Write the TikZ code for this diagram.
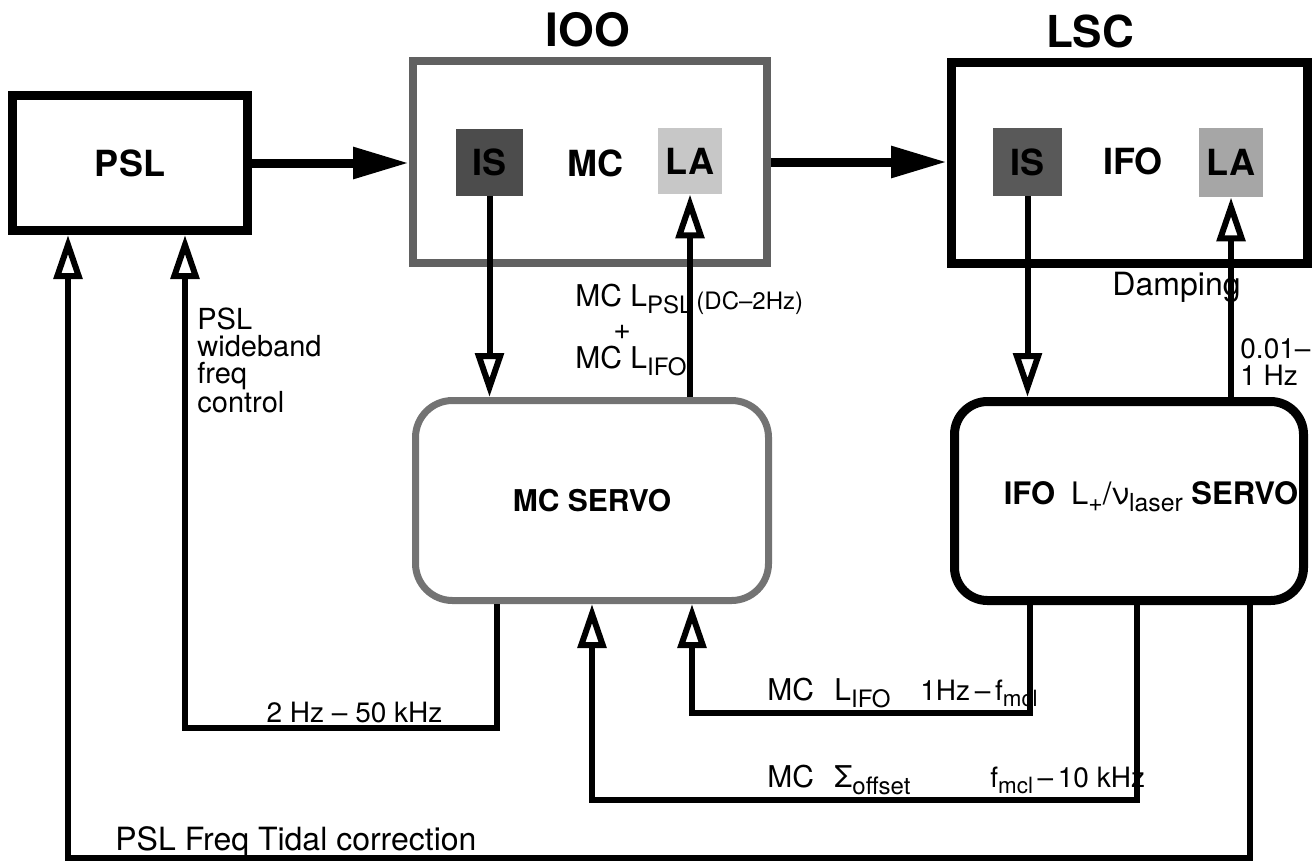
\documentclass[tikz,border=0pt]{standalone}
\usepackage{fontspec}
\setmainfont{TeX Gyre Heros}
\usepackage{graphicx}
\usetikzlibrary{arrows.meta,calc}
\newcommand\lsub[1]{\raisebox{-0.45ex}{\scalebox{0.8}{#1}}}
\newcommand\fsz[1]{\fontsize{#1}{#1}\selectfont}
\begin{document}
\begin{tikzpicture}[x=0.5pt,y=-0.5pt,
  blk/.style={draw, rectangle, inner sep=0pt, fill=white},
  inbox/.style={rectangle, inner sep=0pt, font=\fsz{18pt}\bfseries},
  servo/.style={draw, rectangle, rounded corners=#1, inner sep=0pt, fill=white},
  bigarrow/.style={line width=4.5pt, -{Triangle[length=28pt,width=15pt]}},
  openarr/.style={line width=3pt, -{Triangle[length=22pt,width=14pt,fill=white]}},
  lbl/.style={inner sep=0pt, font=\fsz{15pt}},
  title/.style={inner sep=0pt, font=\fsz{23pt}\bfseries},
]
\useasboundingbox (0,0) rectangle (1315,863);

% titles
\node[title] (tioo) at (588,30) {IOO};
\node[title, font=\fsz{22pt}\bfseries] (tlsc) at (1090,31) {LSC};

% main boxes
\node[blk, line width=4.5pt, minimum width=117.5pt, minimum height=67.5pt,
      font=\fsz{18pt}\bfseries] (psl) at (130,163) {PSL};
\node[blk, line width=4pt, draw=black!62, minimum width=177pt, minimum height=101pt] (ioo) at (590,162) {};
\node[blk, line width=4.5pt, minimum width=178pt, minimum height=100.5pt] (lsc) at (1129.5,163) {};

% inner boxes
\node[inbox, fill=black!70, minimum width=33.5pt, minimum height=33.5pt] (is1) at (489.5,162.5) {IS};
\node[inbox] (mc) at (595,163) {MC};
\node[inbox, fill=black!22, minimum width=32pt, minimum height=33pt] (la1) at (690,161) {LA};
\node[inbox, fill=black!65, minimum width=34.5pt, minimum height=34pt] (is2) at (1027.5,162) {IS};
\node[inbox] (ifo) at (1133,161) {IFO};
\node[inbox, fill=black!35, minimum width=32pt, minimum height=34.5pt] (la2) at (1231,162.5) {LA};

% servo boxes
\node[servo=18.5pt, line width=3.5pt, draw=black!55, minimum width=176.5pt, minimum height=100pt,
      font=\fsz{15pt}\bfseries] (mcs) at (592,500.5) {MC SERVO};
\node[servo=16.5pt, line width=4.5pt, minimum width=174.5pt, minimum height=99.5pt] (ifos) at (1129,501) {};
\node[inner sep=0pt, font=\fsz{15.5pt}] (ifot) at (1151,497)
  {\textbf{IFO}\hspace{8pt}L\lsub{+}/ν\lsub{laser} \textbf{SERVO}};

% top arrows
\draw[bigarrow] (psl.east) -- (psl.east -| ioo.west);
\draw[bigarrow] (ioo.east) -- (ioo.east -| lsc.west);

% vertical links
\draw[openarr] (is1.south) -- (is1.south |- mcs.north);
\draw[openarr] (la1.south |- mcs.north) -- (la1.south);
\draw[openarr] (is2.south) -- (is2.south |- ifos.north);
\draw[openarr] (la2.south |- ifos.north) -- (la2.south);

% bottom feedback paths
\coordinate (k1) at (497,728); \coordinate (k2) at (185,728);
\draw[openarr] (k1 |- mcs.south) -- (k1) -- (k2) -- (k2 |- psl.south);
\coordinate (k3) at (1030,713); \coordinate (k4) at (692,713);
\draw[openarr] (k3 |- ifos.south) -- (k3) -- (k4) -- (k4 |- mcs.south);
\coordinate (k5) at (1137,800); \coordinate (k6) at (592,800);
\draw[openarr] (k5 |- ifos.south) -- (k5) -- (k6) -- (k6 |- mcs.south);
\coordinate (k7) at (1250,858); \coordinate (k8) at (68,858);
\draw[openarr] (k7 |- ifos.south) -- (k7) -- (k8) -- (k8 |- psl.south);

% labels
\node[lbl, anchor=north west, align=left, font=\fontsize{14.5pt}{13.5pt}\selectfont] (wb) at (197,307)
  {PSL\\wideband\\freq\\control};
\node[lbl, anchor=base west] (mcpsl) at (575,306) {MC L\lsub{PSL}\raisebox{-0.2ex}{\fsz{12pt}\,(DC–2Hz)}};
\node[lbl, font=\fsz{15pt}] (plus) at (622,332) {+};
\node[lbl, anchor=base west] (mcifo) at (575,368) {MC L\lsub{IFO}};
\node[lbl, anchor=base, font=\fsz{14pt}] (l2hz) at (354.5,722) {2 Hz – 50 kHz};
\node[lbl, anchor=base west] (lmc1) at (767,700) {MC};
\node[lbl, anchor=base west] (lifo) at (834,700) {L\lsub{IFO}};
\node[lbl, anchor=base west, font=\fsz{14pt}] (lf1) at (920,700) {1Hz\,–\,f\lsub{mcl}};
\node[lbl, anchor=base west] (lmc2) at (767,787) {MC};
\node[lbl, anchor=base west] (lsig) at (834,787) {Σ\lsub{offset}};
\node[lbl, anchor=base west, font=\fsz{14pt}] (lf2) at (990,787) {f\lsub{mcl}\,–\,10 kHz};
\node[lbl, anchor=base west, font=\fsz{16pt}] (ltid) at (115,850) {PSL Freq Tidal correction};
\node[lbl, anchor=base west, font=\fsz{16pt}] (ldamp) at (1112,295) {Damping};
\node[lbl, anchor=base west, font=\fsz{14pt}] (l001) at (1240,358) {0.01–};
\node[lbl, anchor=base west, font=\fsz{14pt}] (l1hz) at (1240,385) {1 Hz};
\end{tikzpicture}
\end{document}
